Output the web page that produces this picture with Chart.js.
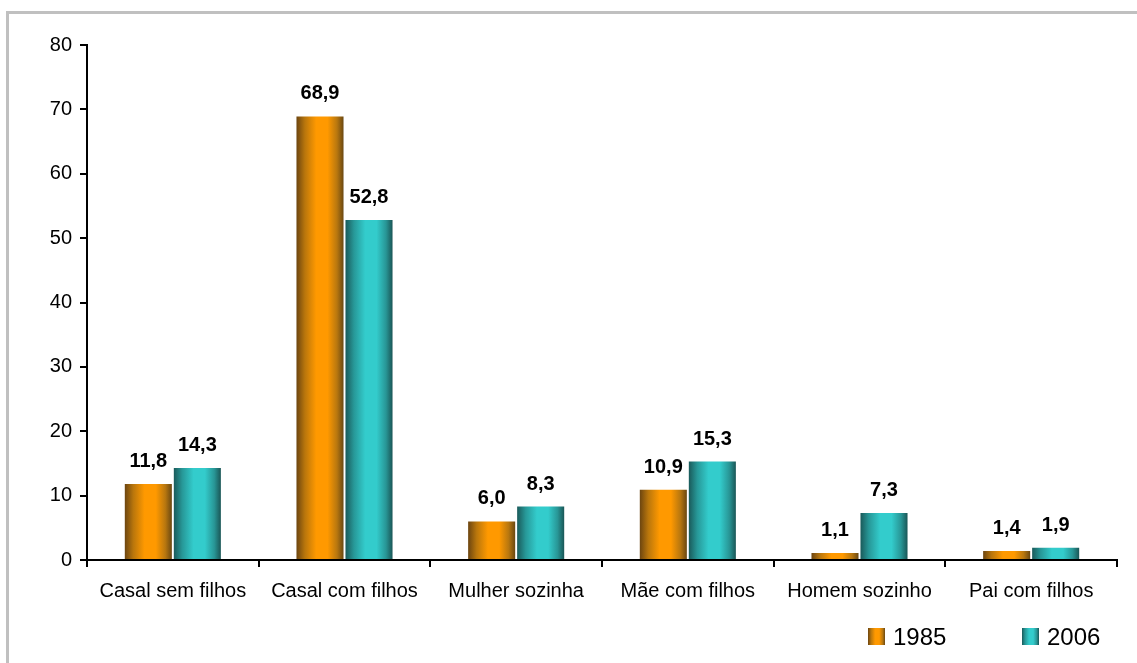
<!DOCTYPE html>
<html>
<head>
<meta charset="utf-8">
<script src="https://cdn.jsdelivr.net/npm/chart.js@4/dist/chart.umd.min.js"></script>
<style>
  html, body { margin: 0; padding: 0; background: #fff; overflow: hidden; }
  .wrap { position: relative; width: 1137px; height: 663px; }
  .frame { position: absolute; left: 6px; top: 11px; right: -10px; bottom: -10px;
           border-left: 3px solid #c0c0c0; border-top: 3px solid #c0c0c0; pointer-events: none; }
</style>
</head>
<body>
<div class="wrap">
  <canvas id="familias" width="1137" height="663"></canvas>
  <div class="frame"></div>
</div>
<script>
// data
const categories = ['Casal sem filhos', 'Casal com filhos', 'Mulher sozinha', 'Mãe com filhos', 'Homem sozinho', 'Pai com filhos'];
const years = ['1985', '2006'];
const values1985 = [11.8, 68.9, 6.0, 10.9, 1.1, 1.4];
const values2006 = [14.3, 52.8, 8.3, 15.3, 7.3, 1.9];
const yTicks = [0, 10, 20, 30, 40, 50, 60, 70, 80];

const CAT_PCT = 0.571;
const BAR_PCT = 0.96;
const FONT = "Arial, 'Liberation Sans', sans-serif";

const orangeStops = [[0, '#6c4510'], [0.18, '#b9760c'], [0.42, '#ff9900'], [0.66, '#ff9900'], [0.86, '#b8770f'], [1, '#6a4812']];
const tealStops = [[0, '#1a5a5a'], [0.18, '#279898'], [0.42, '#33cccc'], [0.66, '#33cccc'], [0.86, '#289696'], [1, '#1a5656']];

function addStops(g, stops) {
  stops.forEach(([o, c]) => g.addColorStop(o, c));
  return g;
}

// horizontal cylinder-like gradient, one per bar
function barFill(stops) {
  return (c) => {
    const chart = c.chart;
    const x = chart.scales && chart.scales.x;
    if (!x || c.type !== 'data' || !x.width) return stops[2][1];
    const catW = (x.right - x.left) / chart.data.labels.length;
    const groupW = catW * CAT_PCT;
    const slot = groupW / chart.data.datasets.length;
    const barW = slot * BAR_PCT;
    const center = x.getPixelForValue(c.dataIndex) - groupW / 2 + slot * (c.datasetIndex + 0.5);
    return addStops(chart.ctx.createLinearGradient(center - barW / 2, 0, center + barW / 2, 0), stops);
  };
}

const valueLabels = {
  id: 'valueLabels',
  afterDatasetsDraw(chart) {
    const ctx = chart.ctx;
    ctx.save();
    ctx.font = 'bold 20px ' + FONT;
    ctx.fillStyle = '#000';
    ctx.textAlign = 'center';
    ctx.textBaseline = 'alphabetic';
    chart.data.datasets.forEach((ds, di) => {
      chart.getDatasetMeta(di).data.forEach((el, i) => {
        ctx.fillText(ds.data[i].toFixed(1).replace('.', ','), el.x, el.y - 17);
      });
    });
    ctx.restore();
  }
};

// legend bottom right, boxes with the same bar gradient
const sideLegend = {
  id: 'sideLegend',
  afterDraw(chart) {
    const ctx = chart.ctx;
    const area = chart.chartArea;
    const cy = area.bottom + 77;
    const starts = [area.right - 249, area.right - 95];
    const fills = [orangeStops, tealStops];
    ctx.save();
    ctx.font = '24px ' + FONT;
    ctx.fillStyle = '#000';
    ctx.textBaseline = 'middle';
    ctx.textAlign = 'left';
    years.forEach((yr, i) => {
      const bx = starts[i];
      ctx.fillStyle = addStops(ctx.createLinearGradient(bx, 0, bx + 17, 0), fills[i]);
      ctx.fillRect(bx, cy - 9, 17, 17);
      ctx.fillStyle = '#000';
      ctx.fillText(yr, bx + 25, cy + 1);
    });
    ctx.restore();
  }
};

new Chart(document.getElementById('familias').getContext('2d'), {
  type: 'bar',
  data: {
    labels: categories,
    datasets: [
      { label: years[0], data: values1985, backgroundColor: barFill(orangeStops), borderWidth: 0 },
      { label: years[1], data: values2006, backgroundColor: barFill(tealStops), borderWidth: 0 },
    ],
  },
  options: {
    responsive: false, animation: false,
    layout: { padding: { top: 45, right: 20, bottom: 63, left: 0 } },
    datasets: { bar: { categoryPercentage: CAT_PCT, barPercentage: BAR_PCT } },
    plugins: { legend: { display: false }, tooltip: { enabled: false } },
    scales: {
      x: {
        grid: { drawOnChartArea: false, color: '#000', lineWidth: 2, tickLength: 7 },
        border: { color: '#000', width: 2 },
        ticks: { color: '#000', font: { family: FONT, size: 20 }, padding: 12, maxRotation: 0, autoSkip: false },
        afterFit: (s) => { s.height = 40; },
      },
      y: {
        min: 0, max: 80,
        afterBuildTicks: (s) => { s.ticks = yTicks.map((v) => ({ value: v })); },
        grid: { drawOnChartArea: false, color: '#000', lineWidth: 2, tickLength: 7 },
        border: { color: '#000', width: 2 },
        ticks: { color: '#000', font: { family: FONT, size: 20 }, padding: 8 },
        afterFit: (s) => { s.width = 87; },
      },
    },
  },
  plugins: [valueLabels, sideLegend],
});
</script>
</body>
</html>
